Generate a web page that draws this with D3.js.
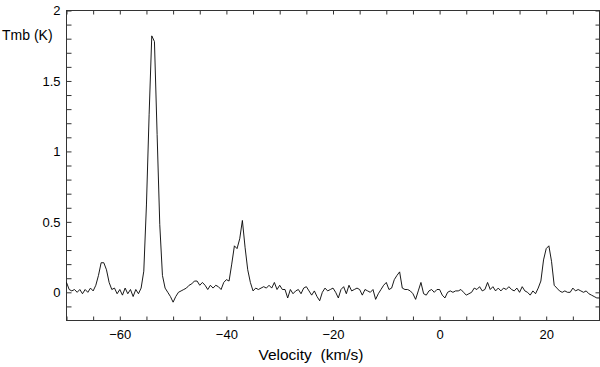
<!DOCTYPE html>
<html>
<head>
<meta charset="utf-8">
<script src="https://cdn.jsdelivr.net/npm/d3@7"></script>
<style>
  body { margin: 0; background: #fff; }
  svg { display: block; font-family: "Liberation Sans", Arial, sans-serif; }
</style>
</head>
<body>
<svg id="chart"></svg>
<script>
const
    margin = {
        top: 10.5,
        right: 0.5,
        bottom: 46.5,
        left: 66.5
    },
    width = 600,
    height = 367

// spectrum channels: first velocity and channel width (km/s)
const v0 = -70
const dv = 0.5

// antenna temperature per channel, -70 .. 30 km/s
const tmb = [
    0.07, 0.02, 0.01, 0.02, 0.00, 0.02, -0.01, 0.02, 0.00, 0.03,   // -70
    0.01, 0.05, 0.12, 0.21, 0.21, 0.16, 0.07, 0.02, 0.03, -0.01,   // -65
    0.02, -0.02, 0.03, -0.01, 0.02, -0.03, 0.02, -0.01, 0.03, 0.15, // -60
    0.62, 1.26, 1.82, 1.78, 1.12, 0.48, 0.12, 0.03, 0.00, -0.03,   // -55
    -0.07, -0.03, 0.00, 0.01, 0.02, 0.03, 0.05, 0.06, 0.08, 0.08,  // -50
    0.05, 0.07, 0.05, 0.02, 0.05, 0.03, 0.05, 0.04, 0.02, 0.07,    // -45
    0.09, 0.08, 0.20, 0.33, 0.31, 0.38, 0.51, 0.32, 0.16, 0.07,    // -40
    0.01, 0.03, 0.02, 0.03, 0.04, 0.03, 0.05, 0.03, 0.07, 0.02,    // -35
    0.05, 0.02, 0.02, -0.04, 0.02, -0.01, 0.01, 0.02, -0.01, 0.03, // -30
    0.04, 0.01, -0.02, 0.01, -0.03, -0.06, 0.00, 0.03, 0.01, 0.02, // -25
    0.03, 0.00, -0.04, 0.02, 0.04, -0.01, 0.05, 0.01, 0.02, 0.03,  // -20
    0.02, -0.02, 0.02, 0.01, 0.00, 0.02, -0.05, -0.01, 0.02, 0.05, // -15
    0.07, 0.02, 0.03, 0.09, 0.12, 0.145, 0.03, 0.02, 0.02, 0.01,   // -10
    -0.01, -0.05, 0.01, 0.07, -0.01, -0.02, 0.01, 0.02, 0.00, 0.02, // -5
    0.02, -0.02, -0.04, 0.00, 0.01, 0.00, 0.01, 0.01, 0.02, 0.00,  // 0
    -0.02, -0.01, 0.00, 0.03, 0.02, 0.04, 0.01, 0.02, 0.07, 0.02,  // 5
    0.04, 0.01, 0.03, 0.01, 0.03, 0.02, 0.04, 0.02, 0.01, 0.03,    // 10
    0.00, 0.04, 0.01, 0.00, -0.02, 0.01, -0.01, 0.03, 0.08, 0.23,  // 15
    0.31, 0.33, 0.22, 0.05, 0.03, 0.01, 0.00, 0.01, 0.00, 0.00,    // 20
    0.03, 0.01, 0.02, 0.01, 0.00, 0.01, -0.01, -0.02, -0.03, -0.04, // 25
    -0.04                                                          // 30
]

const xDomain = [-70, 30]
const yDomain = [-0.2, 2]
const xTicks = d3.range(-70, 31, 5)
const xLabels = [-60, -40, -20, 0, 20]
const yTicks = d3.range(-1, 21).map(i => i / 10)
const yLabels = [0, 0.5, 1, 1.5, 2]

const data = tmb.map((t, i) => ({ v: v0 + i * dv, t }))

const x = d3.scaleLinear()
    .domain(xDomain)
    .range([margin.left, width - margin.right])

const y = d3.scaleLinear()
    .domain(yDomain)
    .range([height - margin.bottom, margin.top])

const fmtX = d => xLabels.includes(d) ? (d < 0 ? "\u2212" + Math.abs(d) : String(d)) : ""
const fmtY = d => yLabels.some(l => Math.abs(l - d) < 1e-9) ? String(+d.toFixed(1)) : ""

const svg = d3.select("#chart")
    .attr("width", width)
    .attr("height", height)

function styleAxis(g) {
    g.select(".domain").remove()
    g.selectAll(".tick line").attr("stroke", "#333")
    g.selectAll(".tick text").attr("fill", "#000").attr("font-size", 13)
}

svg.append("g")
    .attr("transform", `translate(0,${height - margin.bottom})`)
    .call(d3.axisBottom(x).tickValues(xTicks).tickFormat(fmtX).tickSizeInner(-4).tickSizeOuter(0).tickPadding(9))
    .call(styleAxis)

svg.append("g")
    .attr("transform", `translate(0,${margin.top})`)
    .call(d3.axisTop(x).tickValues(xTicks).tickFormat("").tickSizeInner(-4).tickSizeOuter(0))
    .call(styleAxis)

svg.append("g")
    .attr("transform", `translate(${margin.left},0)`)
    .call(d3.axisLeft(y).tickValues(yTicks).tickFormat(fmtY).tickSizeInner(-5).tickSizeOuter(0).tickPadding(6))
    .call(styleAxis)

svg.append("g")
    .attr("transform", `translate(${width - margin.right},0)`)
    .call(d3.axisRight(y).tickValues(yTicks).tickFormat("").tickSizeInner(-4).tickSizeOuter(0))
    .call(styleAxis)

// frame
svg.append("rect")
    .attr("x", margin.left)
    .attr("y", margin.top)
    .attr("width", width - margin.right - margin.left)
    .attr("height", height - margin.bottom - margin.top)
    .attr("fill", "none")
    .attr("stroke", "#333")

const line = d3.line()
    .x(d => x(d.v))
    .y(d => y(d.t))

svg.append("path")
    .datum(data)
    .attr("fill", "none")
    .attr("stroke", "#000")
    .attr("stroke-width", 0.9)
    .attr("d", line)

svg.append("text")
    .attr("x", 2)
    .attr("y", 40)
    .attr("font-size", 14)
    .text("Tmb (K)")

svg.append("text")
    .attr("x", 311)
    .attr("y", 360)
    .attr("text-anchor", "middle")
    .attr("font-size", 15.5)
    .attr("xml:space", "preserve")
    .style("white-space", "pre")
    .text("Velocity  (km/s)")
</script>
</body>
</html>
